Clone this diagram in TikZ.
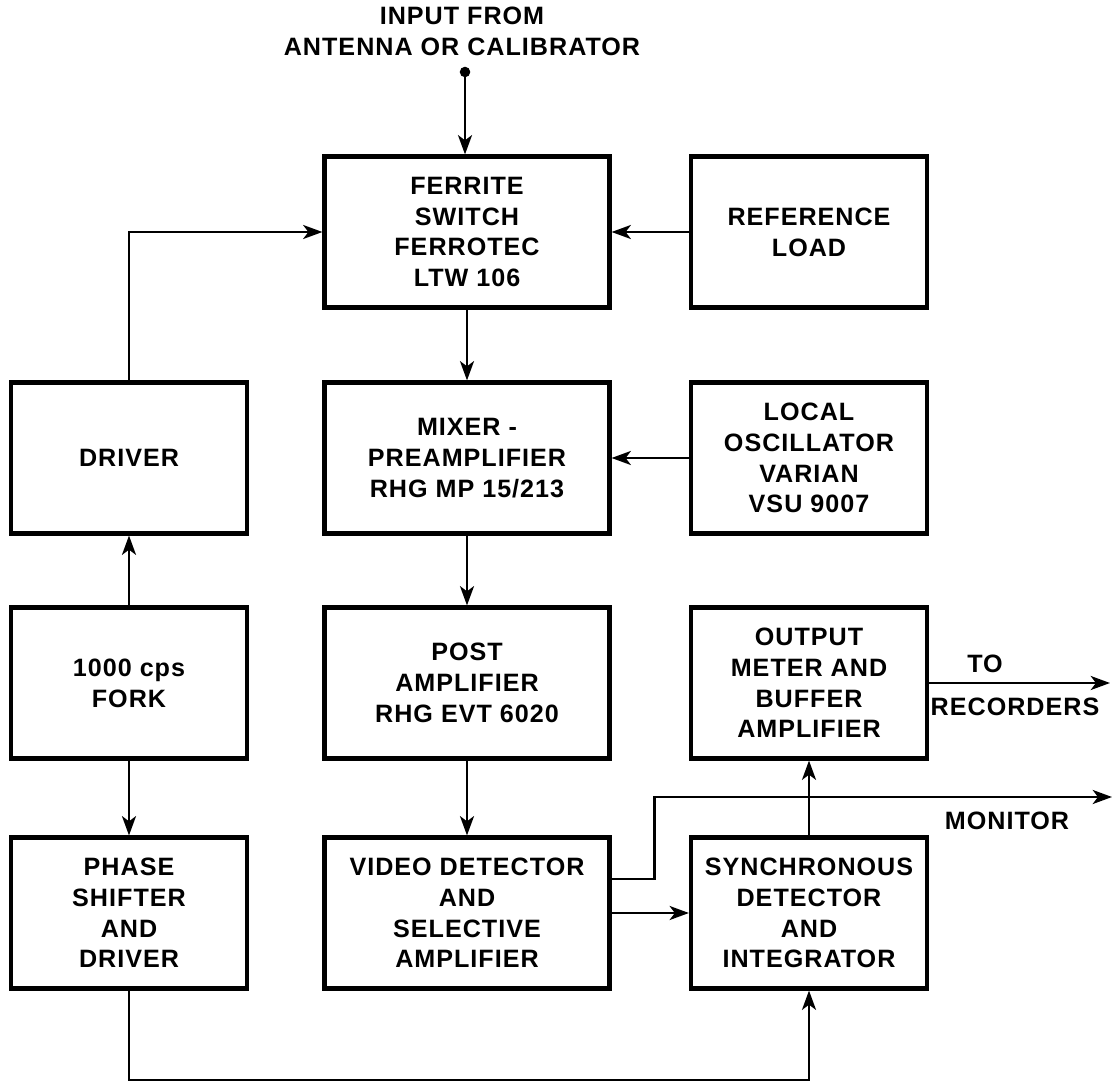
\documentclass[tikz,border=0pt]{standalone}
\usepackage{fontspec}
\setmainfont{Liberation Sans}[LetterSpace=4]
\usetikzlibrary{arrows.meta,positioning}

\begin{document}
\begin{tikzpicture}[x=0.02cm,y=-0.02cm,
	block/.style={draw,line width=2.4pt,minimum height=3.02cm,align=center,inner sep=2pt},
	wide/.style={block,minimum width=5.7cm},
	narrow/.style={block,minimum width=4.72cm},
	link/.style={line width=1.3pt},
	>={Stealth[length=11pt,width=8pt,inset=3pt]},
	font=\fontsize{14.3}{17.5}\selectfont\bfseries]
	\useasboundingbox (0,0) rectangle (1112,1081);
	% blocks
	\node[wide] (ferrite) at (467,232) {FERRITE\\SWITCH\\FERROTEC\\LTW 106};
	\node[narrow] (refload) at (809,232) {REFERENCE\\LOAD};
	\node[narrow] (driver) at (129,458) {DRIVER};
	\node[wide] (mixer) at (467,458) {MIXER -\\PREAMPLIFIER\\RHG MP 15/213};
	\node[narrow] (locosc) at (809,458) {LOCAL\\OSCILLATOR\\VARIAN\\VSU 9007};
	\node[narrow] (fork) at (129,683) {1000 cps\\FORK};
	\node[wide] (postamp) at (467,683) {POST\\AMPLIFIER\\RHG EVT 6020};
	\node[narrow] (outmeter) at (809,683) {OUTPUT\\METER AND\\BUFFER\\AMPLIFIER};
	\node[narrow] (phase) at (129,913) {PHASE\\SHIFTER\\AND\\DRIVER};
	\node[wide] (video) at (467,913) {VIDEO DETECTOR\\AND\\SELECTIVE\\AMPLIFIER};
	\node[narrow] (syncdet) at (809,913) {SYNCHRONOUS\\DETECTOR\\AND\\INTEGRATOR};
	% texts
	\node[align=center] (intext) at (462,31) {INPUT FROM\\ANTENNA OR CALIBRATOR};
	\node (to) at (985,664) {TO};
	\node (recorders) at (1015,707) {RECORDERS};
	\node (monlbl) at (1007,821) {MONITOR};
	% free ends
	\coordinate (input) at (465,72);
	\coordinate (rec) at (1110,683);
	\coordinate (mon) at (1112,797);
	\coordinate (vidtap) at ([yshift=0.68cm]video.east);
	% connectors
	\fill (input) circle (3pt);
	\draw[link,->] (input) -- (input |- ferrite.north);
	\draw[link,->] (refload) -- (ferrite);
	\draw[link,->] (driver.north) |- (ferrite.west);
	\draw[link,->] (ferrite) -- (mixer);
	\draw[link,->] (locosc) -- (mixer);
	\draw[link,->] (mixer) -- (postamp);
	\draw[link,->] (postamp) -- (video);
	\draw[link,->] (fork) -- (driver);
	\draw[link,->] (fork) -- (phase);
	\draw[link,->] (phase.south) -- ++(0,90) -| (syncdet.south);
	\draw[link,->] (video) -- (syncdet);
	\draw[link,->] (syncdet) -- (outmeter);
	\draw[link,->] (outmeter.east) -- (rec);
	\draw[link,->] (vidtap) -- ++(43,0) |- (mon);
\end{tikzpicture}
\end{document}
